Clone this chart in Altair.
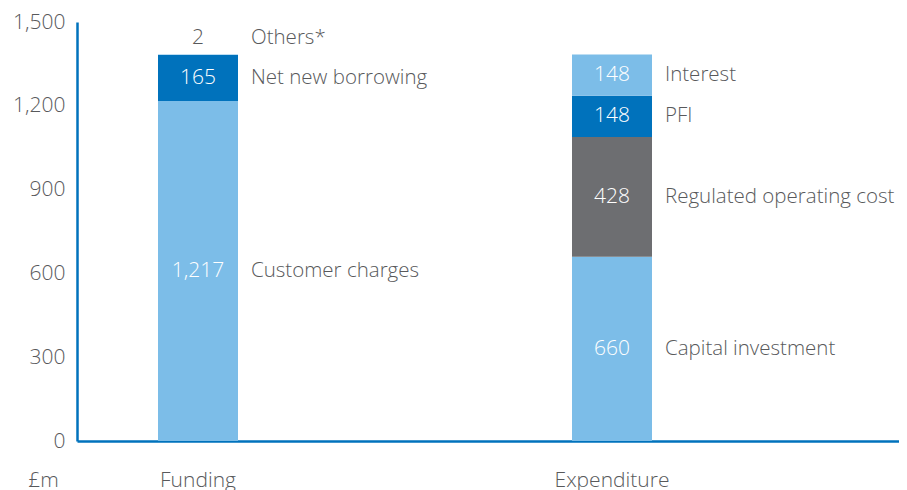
import altair as alt
import pandas as pd

categories = ["Funding", "Expenditure"]
groups = ["Funding", "Funding", "Funding",
          "Expenditure", "Expenditure", "Expenditure", "Expenditure"]
segments = ["Customer charges", "Net new borrowing", "Others*",
            "Capital investment", "Regulated operating cost", "PFI", "Interest"]
values = [1217, 165, 2, 660, 428, 148, 148]
tones = ["light", "dark", "light", "light", "grey", "dark", "light"]
y_ticks = [0, 300, 600, 900, 1200, 1500]

df = pd.DataFrame(dict(group=groups, segment=segments, value=values, tone=tones))
df["end"] = df.groupby("group")["value"].cumsum()
df["start"] = df["end"] - df["value"]
df["mid"] = (df["start"] + df["end"]) / 2
df["label"] = df["value"].map(lambda v: f"{v:,}")

FONT = "Open Sans"
FS = 21
FS_NAME = 20.5
FW = 300
TXT = "#58595B"
BLUE = "#0072BC"

W = 822
step = 414.0
bw = 80.0
pi = 1 - bw / step
po = (W / step - 2 + pi) / 2
align = 81.0 / (W - step * (2 - pi))

xscale = alt.Scale(domain=categories, paddingInner=pi, paddingOuter=po, align=align)
x = alt.X("group:N", sort=categories, scale=xscale,
          axis=alt.Axis(title=None, labelAngle=0, ticks=False, labelPadding=28,
                        labelFontSize=FS, labelColor=TXT, labelFont=FONT, labelFontWeight=FW,
                        domainColor=BLUE, domainWidth=2.5))
yscale = alt.Scale(domain=[0, 1500], nice=False)

base = alt.Chart(df)

bars = base.mark_bar().encode(
    x=x,
    y=alt.Y("start:Q", scale=yscale,
            axis=alt.Axis(values=y_ticks, format=",.0f", ticks=False, grid=False,
                          labelPadding=12, labelFontSize=FS, labelColor=TXT, labelFont=FONT,
                          labelFontWeight=FW,
                          domainColor=BLUE, domainWidth=2.5,
                          title="£m", titleAngle=0, titleX=-34, titleY=458,
                          titleAlign="center", titleBaseline="middle",
                          titleFontWeight=FW, titleFontSize=FS, titleColor=TXT,
                          titleFont=FONT)),
    y2="end:Q",
    color=alt.Color("tone:N", legend=None,
                    scale=alt.Scale(domain=["light", "dark", "grey"],
                                    range=["#7CBDE8", "#0072BC", "#6D6E71"])),
)

big = base.transform_filter("datum.value >= 50")
small = base.transform_filter("datum.value < 50")

txt = dict(fontSize=FS, font=FONT, fontWeight=FW, baseline="middle")
ntxt = dict(fontSize=FS_NAME, font=FONT, fontWeight=FW, baseline="middle")
val_big = big.mark_text(color="white", **txt).encode(
    x=x, y=alt.Y("mid:Q", scale=yscale), text="label:N")
val_small = small.mark_text(color=TXT, dy=-16, **txt).encode(
    x=x, y=alt.Y("end:Q", scale=yscale), text="label:N")
name_big = big.mark_text(color=TXT, align="left", dx=53, **ntxt).encode(
    x=x, y=alt.Y("mid:Q", scale=yscale), text="segment:N")
name_small = small.mark_text(color=TXT, align="left", dx=53, dy=-16, **ntxt).encode(
    x=x, y=alt.Y("end:Q", scale=yscale), text="segment:N")

chart = alt.layer(bars, val_big, val_small, name_big, name_small).properties(
    width=W, height=419,
    autosize=alt.AutoSizeParams(type="none"),
    padding={"left": 69, "top": 14, "right": 0, "bottom": 60},
).configure_view(stroke=None)

chart.save("out.html", embed_options={"renderer": "svg", "actions": False})
